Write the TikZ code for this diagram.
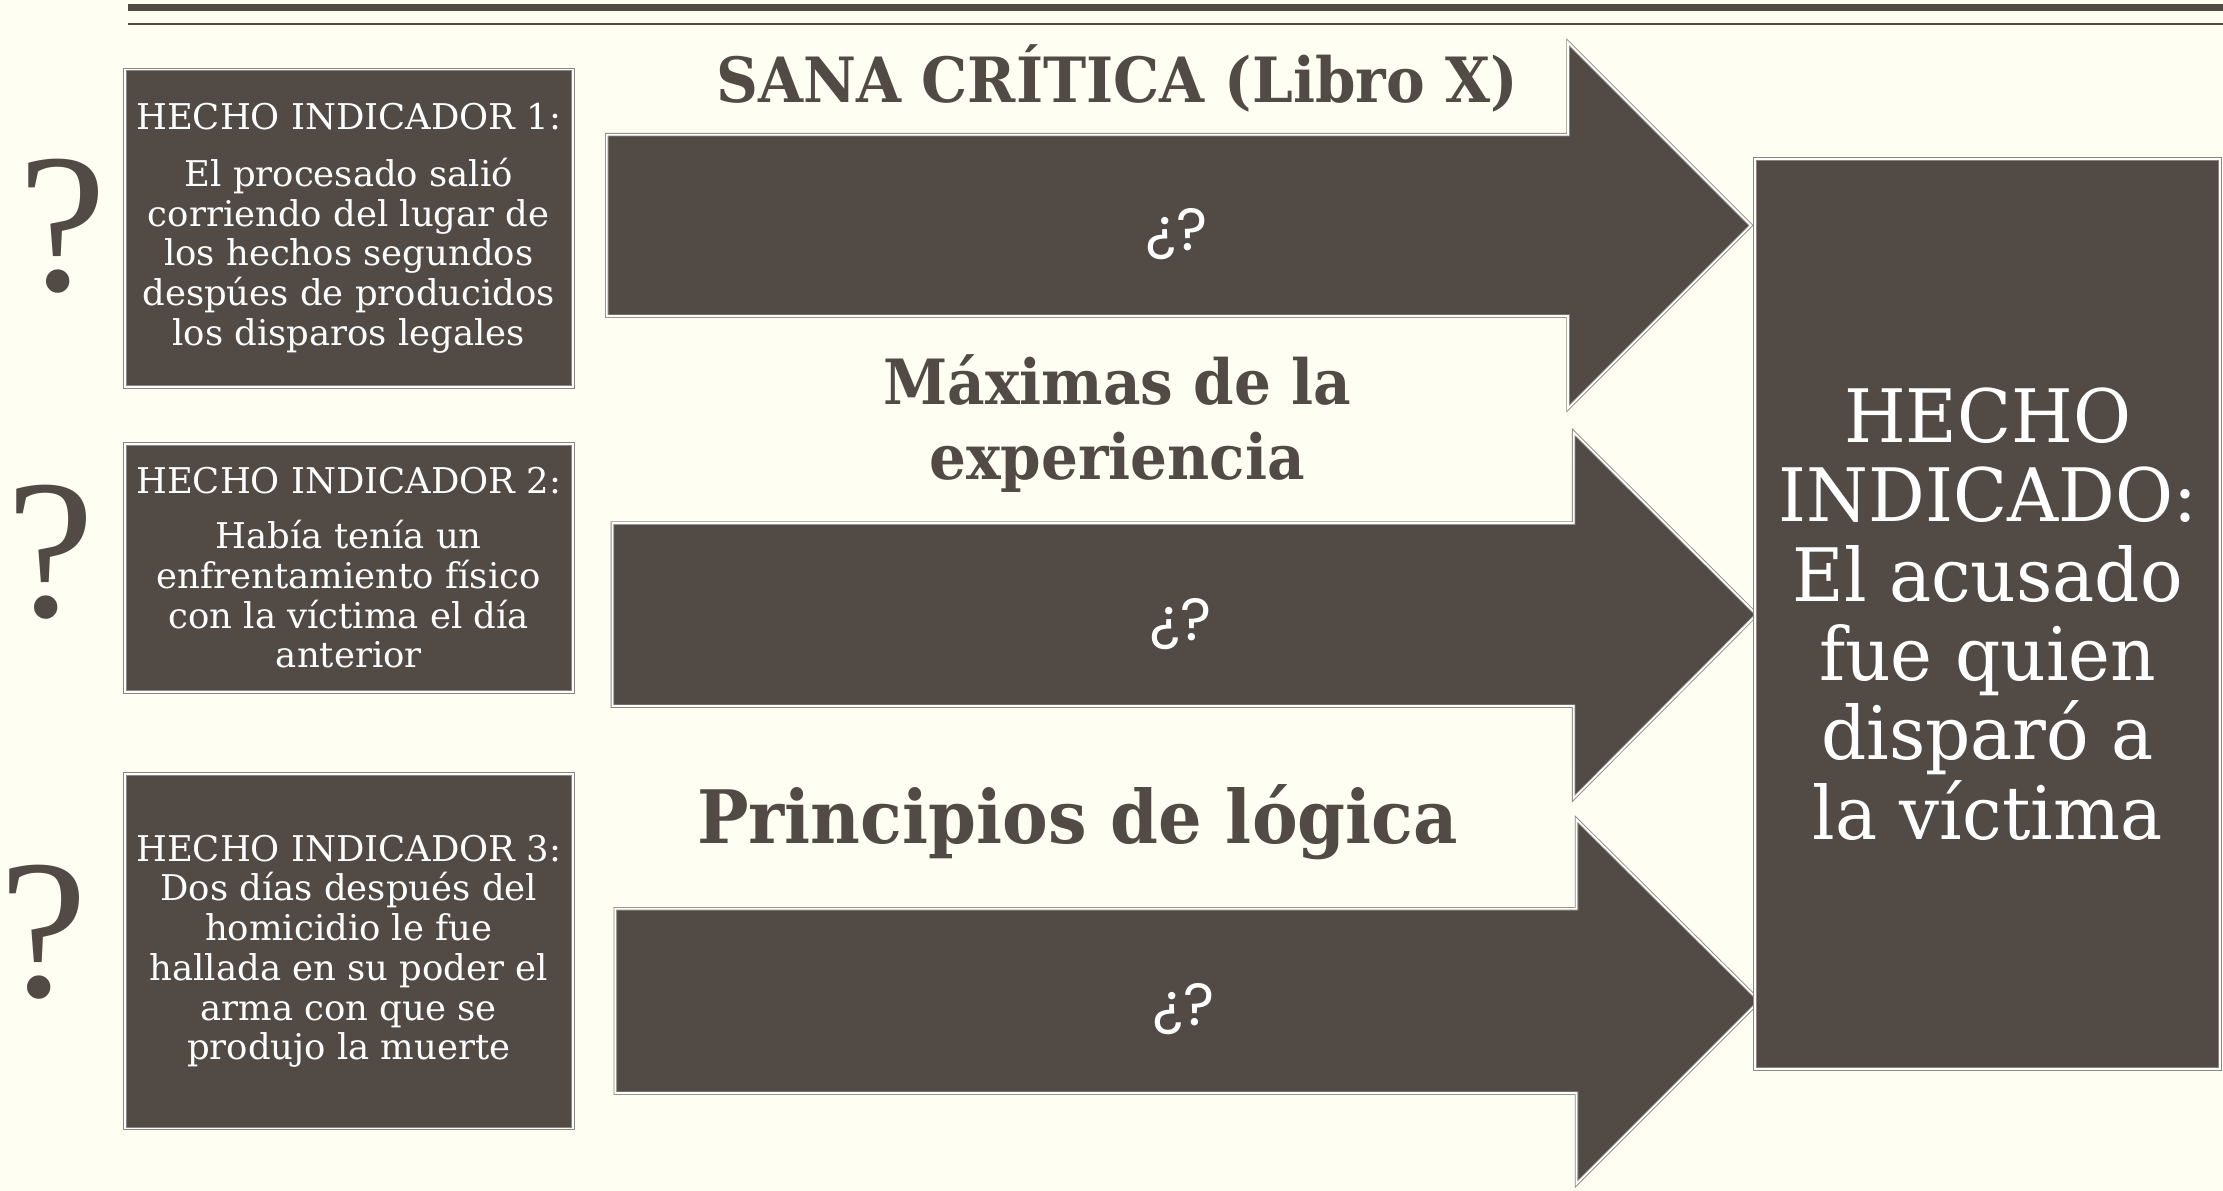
\documentclass[tikz,border=0pt]{standalone}
\usepackage{fontspec}
\setmainfont{DejaVu Serif}
\newfontfamily\qsans{Poppins}
\newfontfamily\qserif{Liberation Serif}
\newfontfamily\resfont[FakeStretch=0.96]{DejaVu Serif}
\newfontfamily\titlefont[FakeStretch=0.93]{DejaVu Serif}
\definecolor{bg}{HTML}{FEFEF3}
\definecolor{dk}{HTML}{524A45}
\definecolor{edge}{HTML}{8C847E}
\begin{document}
\begin{tikzpicture}[x=1pt,y=-1pt,
  dbl/.style={draw=edge, line width=0.6pt, double=white, double distance=1.3pt},
  factbox/.style={dbl, fill=dk, text=white, inner sep=0pt, align=center,
    font=\fontsize{25}{28}\selectfont, minimum width=316pt},
  bigq/.style={anchor=base, text=dk, font=\qserif\fontsize{140}{140}\selectfont, inner sep=0pt},
  title/.style={anchor=base, text=dk, inner sep=0pt, font=\titlefont\bfseries\fontsize{44}{44}\selectfont},
  arrowshape/.style={dbl, fill=dk},
  qmark/.style={text=white, inner sep=0pt, font=\qsans\fontsize{42}{42}\selectfont}
]
\useasboundingbox (0,0) rectangle (1568,840);
\fill[bg] (0,0) rectangle (1568,840);
% top rules
\fill[dk] (90,2.5) rectangle (1568,7.5);
\fill[dk] (90,16.3) rectangle (1568,17.8);

% arrows
\path[arrowshape] (428,95) -- (1106,95) -- (1106,30) -- (1235,159) -- (1106,288) -- (1106,223) -- (428,223) -- cycle;
\path[arrowshape] (432,369) -- (1110,369) -- (1110,305) -- (1239,433.5) -- (1110,563) -- (1110,498) -- (432,498) -- cycle;
\path[arrowshape] (434,641) -- (1112,641) -- (1112,578) -- (1241,706) -- (1112,835) -- (1112,771) -- (434,771) -- cycle;

\node[qmark] (q1) at (830,165) {¿?};
\node[qmark] (q2) at (833,440) {¿?};
\node[qmark] (q3) at (835,712) {¿?};

% titles
\node[title] (t1) at (788,72) {SANA CRÍTICA (Libro X)};
\node[title] (t2a) at (788,285) {Máximas de la};
\node[title] (t2b) at (788,338) {experiencia};
\node[title, font=\titlefont\bfseries\fontsize{52}{52}\selectfont] (t3) at (760,595) {Principios de lógica};

% fact boxes
\node[factbox, minimum height=224pt] (h1) at (246,161)
  {HECHO INDICADOR 1:\\[12pt]El procesado salió\\corriendo del lugar de\\los hechos segundos\\despúes de producidos\\los disparos legales};
\node[factbox, minimum height=175pt] (h2) at (246,400.5)
  {HECHO INDICADOR 2:\\[11pt]Había tenía un\\enfrentamiento físico\\con la víctima el día\\anterior};
\node[factbox, minimum height=250pt] (h3) at (246,671)
  {HECHO INDICADOR 3:\\Dos días después del\\homicidio le fue\\hallada en su poder el\\arma con que se\\produjo la muerte};

% question marks
\node[bigq] (b1) at (44,205) {?};
\node[bigq] (b2) at (36,435) {?};
\node[bigq] (b3) at (31,703) {?};

% result box
\node[dbl, fill=dk, text=white, inner sep=0pt, align=center, minimum width=328pt, minimum height=642pt,
  font=\resfont\fontsize{52}{56}\selectfont] (res) at (1402,433)
  {HECHO\\INDICADO:\\El acusado\\fue quien\\disparó a\\la víctima};
\end{tikzpicture}
\end{document}
